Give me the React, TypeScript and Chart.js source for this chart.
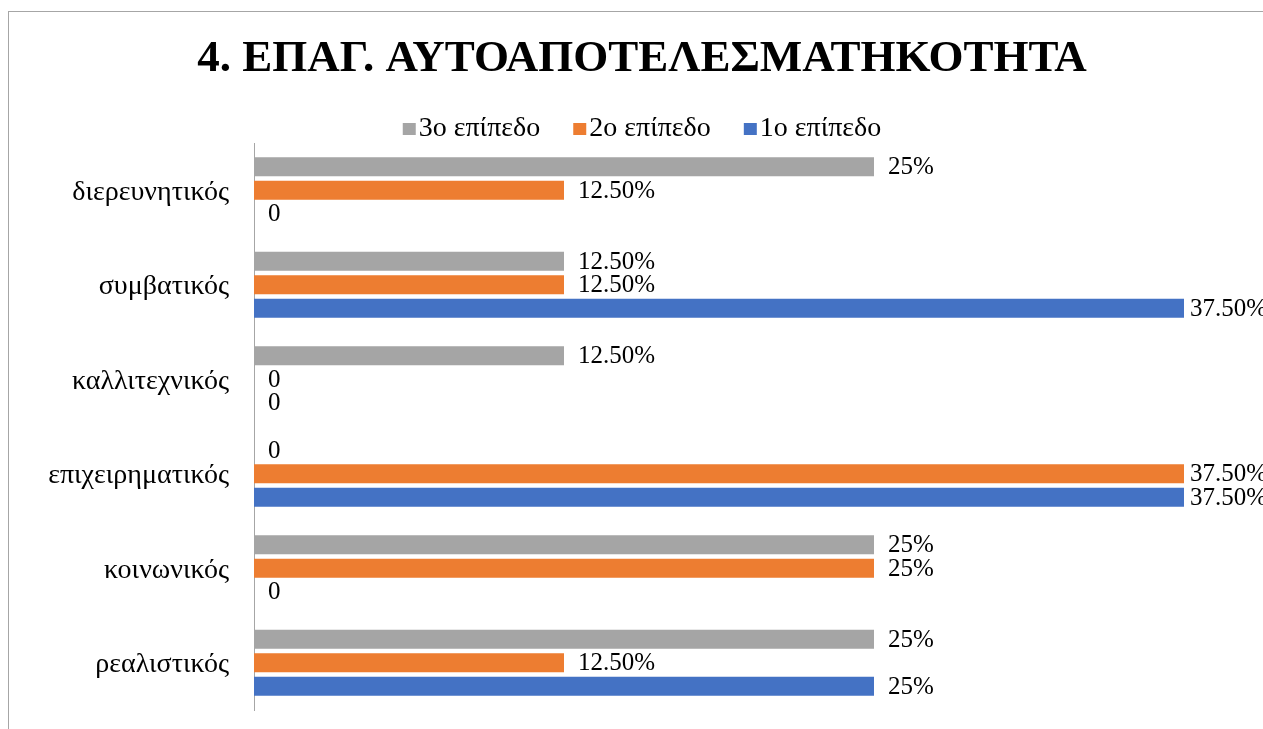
import { useEffect, useRef } from "react";
import { Chart, registerables } from "chart.js";

Chart.register(...registerables);

const TITLE = "4. ΕΠΑΓ. ΑΥΤΟΑΠΟΤΕΛΕΣΜΑΤΗΚΟΤΗΤΑ";
const categories = [
  "διερευνητικός",
  "συμβατικός",
  "καλλιτεχνικός",
  "επιχειρηματικός",
  "κοινωνικός",
  "ρεαλιστικός",
];
const seriesNames = ["3ο επίπεδο", "2ο επίπεδο", "1ο επίπεδο"];
const level3 = [25, 12.5, 12.5, 0, 25, 25];
const level2 = [12.5, 12.5, 0, 37.5, 25, 12.5];
const level1 = [0, 37.5, 0, 37.5, 0, 25];
const seriesColors = ["#A5A5A5", "#ED7D31", "#4472C4"];
const X_MIN = 0;
const X_MAX = 40;

const FONT = '"Liberation Serif", "Times New Roman", serif';

function fmt(v: number): string {
  if (v === 0) return "0";
  return Number.isInteger(v) ? `${v}%` : `${v.toFixed(2)}%`;
}

function makeSwatch(color: string): HTMLCanvasElement {
  const c = document.createElement("canvas");
  c.width = 26;
  c.height = 14;
  const g = c.getContext("2d")!;
  g.fillStyle = color;
  g.fillRect(12, 1, 13, 12);
  return c;
}

const valueLabels = {
  id: "valueLabels",
  afterDatasetsDraw(chart: any) {
    const ctx = chart.ctx;
    ctx.save();
    ctx.font = `25px ${FONT}`;
    ctx.fillStyle = "#000";
    ctx.textBaseline = "middle";
    ctx.textAlign = "left";
    chart.data.datasets.forEach((ds: any, di: number) => {
      const meta = chart.getDatasetMeta(di);
      meta.data.forEach((bar: any, i: number) => {
        const txt = fmt(ds.data[i]);
        const w = ctx.measureText(txt).width;
        const x = Math.min(bar.x + 14, chart.width + 4 - w);
        ctx.fillText(txt, x, bar.y + 1);
      });
    });
    ctx.restore();
  },
};

const legendFitPatch = {
  id: "legendFitPatch",
  beforeInit(chart: any) {
    const lg = chart.legend;
    if (lg) {
      const orig = lg.fit.bind(lg);
      lg.fit = function () {
        orig();
        this.height = Math.max(0, this.height - 10);
      };
    }
  },
};

export default function App() {
  const ref = useRef<HTMLCanvasElement | null>(null);

  useEffect(() => {
    if (!ref.current) return;
    const swatches = seriesColors.map(makeSwatch);
    const values = [level3, level2, level1];
    const chart = new Chart(ref.current, {
      type: "bar",
      data: {
        labels: categories,
        datasets: seriesNames.map((name, i) => ({
          label: name,
          data: values[i],
          backgroundColor: seriesColors[i],
          borderWidth: 0,
          categoryPercentage: 0.746,
          barPercentage: 0.81,
        })),
      },
      options: {
        indexAxis: "y",
        responsive: false,
        animation: false,
        devicePixelRatio: 1,
        layout: { padding: { left: 29, right: 17, top: 0, bottom: 19 } },
        scales: {
          x: { display: false, min: X_MIN, max: X_MAX },
          y: {
            grid: { display: false, drawTicks: true, tickLength: 25 },
            border: { display: true, color: "#a6a6a6", width: 1 },
            ticks: {
              color: "#000",
              font: { family: FONT, size: 28 },
              padding: 0,
              labelOffset: 2,
            },
            afterFit: (s: any) => {
              s.width = 216;
            },
          },
        },
        plugins: {
          title: {
            display: true,
            text: TITLE,
            color: "#000",
            font: { family: FONT, size: 45, weight: "bold" },
            padding: { top: 20, bottom: -4 },
          },
          legend: {
            display: true,
            position: "top",
            labels: {
              color: "#000",
              font: { family: FONT, size: 28 },
              usePointStyle: true,
              pointStyleWidth: 2,
              padding: 33,
              generateLabels: (c: any) => {
                const items = (Chart.defaults.plugins.legend.labels as any).generateLabels(c);
                return items.map((it: any, i: number) => ({ ...it, pointStyle: swatches[i] }));
              },
            },
          },
          tooltip: { enabled: false },
        },
      },
      plugins: [valueLabels, legendFitPatch],
    } as any);
    return () => chart.destroy();
  }, []);

  return (
    <div
      style={{
        position: "fixed",
        left: 8,
        top: 11,
        width: 1255,
        height: 718,
        borderLeft: "1px solid #a6a6a6",
        borderTop: "1px solid #a6a6a6",
        boxSizing: "border-box",
        background: "#fff",
        overflow: "hidden",
      }}
    >
      <canvas ref={ref} width={1254} height={717} style={{ display: "block" }} />
    </div>
  );
}
